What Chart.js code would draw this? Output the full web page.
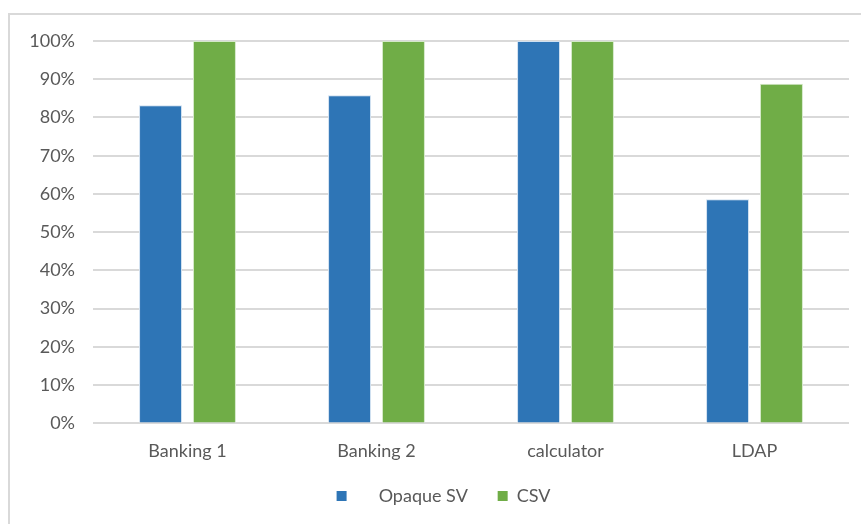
<!DOCTYPE html>
<html>
<head>
<meta charset="utf-8">
<script src="https://cdn.jsdelivr.net/npm/chart.js@4/dist/chart.umd.min.js"></script>
<style>
  html, body { margin: 0; padding: 0; background: #ffffff; }
  #wrap { position: absolute; left: 0; top: 0; width: 861px; height: 524px; }
</style>
</head>
<body>
<div id="wrap"><canvas id="c" width="861" height="524"></canvas></div>
<script>
const categories = ["Banking 1", "Banking 2", "calculator", "LDAP"];
const opaqueSV = [83.2, 85.8, 100, 58.6];
const csv = [100, 100, 100, 88.8];
const seriesNames = ["Opaque SV", "CSV"];
const yTicks = [0, 10, 20, 30, 40, 50, 60, 70, 80, 90, 100];

const frame = {
  id: 'frame',
  beforeDraw(chart) {
    const ctx = chart.ctx;
    ctx.save();
    ctx.strokeStyle = '#d9d9d9';
    ctx.lineWidth = 2;
    ctx.strokeRect(9, 14, 900, 600);
    ctx.restore();
  }
};

const legendShift = {
  id: 'legendShift',
  afterLayout(chart) {
    if (chart.legend) { chart.legend.left += 14; chart.legend.right += 14; }
  }
};

new Chart(document.getElementById('c'), {
  type: 'bar',
  data: {
    labels: categories,
    datasets: [
      { label: seriesNames[0], data: opaqueSV, backgroundColor: '#2e75b6', borderColor: '#cfe0f0', borderWidth: 1 },
      { label: seriesNames[1], data: csv, backgroundColor: '#70ad47', borderColor: '#d4e8c8', borderWidth: 1 }
    ]
  },
  options: {
    responsive: false,
    animation: false,
    devicePixelRatio: 1,
    layout: { padding: { top: 41, right: 12, left: 10, bottom: 9 } },
    datasets: { bar: { categoryPercentage: 0.571, barPercentage: 0.796 } },
    scales: {
      x: {
        grid: { display: false },
        border: { display: false },
        ticks: { color: '#595959', font: { family: 'Lato', size: 18 }, padding: 9 }
      },
      y: {
        min: 0, max: 100,
        afterFit(scale) { scale.width = 83; },
        afterBuildTicks(scale) { scale.ticks = yTicks.map(v => ({ value: v })); },
        grid: { color: '#d9d9d9', lineWidth: 2, drawTicks: false },
        border: { display: false },
        ticks: { color: '#595959', font: { family: 'Lato', size: 18 }, padding: 18, callback: v => v + '%' }
      }
    },
    plugins: {
      legend: {
        position: 'bottom',
        labels: {
          color: '#595959',
          font: { family: 'Lato', size: 18 },
          boxWidth: 10, boxHeight: 10,
          padding: 16,
          generateLabels(chart) {
            const items = Chart.defaults.plugins.legend.labels.generateLabels(chart);
            items.forEach(it => { it.lineWidth = 0; if (it.datasetIndex === 0) it.text = '     ' + it.text + '   '; });
            return items;
          }
        }
      },
      tooltip: { enabled: false }
    }
  },
  plugins: [frame, legendShift]
});
</script>
</body>
</html>
